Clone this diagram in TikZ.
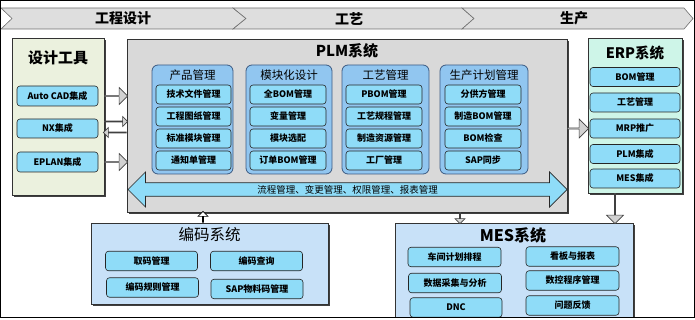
\documentclass[tikz,border=0pt]{standalone}
\usepackage{fontspec}
\setmainfont{Noto Sans CJK SC}
\usetikzlibrary{shapes.arrows,shadows,calc}
\definecolor{hdrfill}{RGB}{222,222,222}
\definecolor{hdrline}{RGB}{110,110,110}
\definecolor{olivefill}{RGB}{235,241,222}
\definecolor{itemfill}{RGB}{143,220,248}
\definecolor{grpfill}{RGB}{145,198,240}
\definecolor{grpline}{RGB}{60,90,130}
\definecolor{plmfill}{RGB}{217,217,217}
\definecolor{erpfill}{RGB}{206,245,232}
\definecolor{sysfill}{RGB}{200,225,248}
\definecolor{arrfill}{RGB}{210,210,210}
\tikzset{
  shad/.style={drop shadow={shadow xshift=1.6pt,shadow yshift=-1.6pt,opacity=1,fill=black!75}},
  bigbox/.style={draw=black!80,line width=0.6pt,inner sep=0pt,shad},
  grpbox/.style={draw=grpline,line width=0.8pt,fill=grpfill,rounded corners=6pt,inner sep=0pt},
  item/.style={draw=black!85,line width=0.6pt,fill=itemfill,rounded corners=3pt,inner sep=0pt,
     font=\bfseries\fontsize{9}{10}\selectfont},
  gitem/.style={item,minimum width=76,minimum height=19},
  eitem/.style={item,minimum width=90,minimum height=19},
  citem/.style={item,minimum width=92,minimum height=19.5},
  ttl/.style={font=\bfseries\fontsize{15}{17}\selectfont},
  gttl/.style={font=\fontsize{11.5}{13}\selectfont},
  hdr/.style={font=\bfseries\fontsize{14}{16}\selectfont},
  hchev/.style={draw=hdrline,fill=hdrfill,line width=0.6pt},
  blockarr/.style={single arrow,draw=black!75,line width=0.6pt,fill=arrfill,inner sep=0pt},
}
\begin{document}
\begin{tikzpicture}[x=1pt,y=-1pt]
\useasboundingbox (0,0) rectangle (695,320);
% header chevrons
\draw[hchev] (1,8) -- (233,8) -- (246,18.5) -- (233,29) -- (1,29) -- (12,18.5) -- cycle;
\draw[hchev] (233,8) -- (462,8) -- (474,18.5) -- (462,29) -- (233,29) -- (246,18.5) -- cycle;
\draw[hchev] (462,8) -- (684,8) -- (693,18.5) -- (684,29) -- (462,29) -- (474,18.5) -- cycle;
\node[hdr] (h1) at (123,18.5) {工程设计};
\node[hdr] (h2) at (349,18.5) {工艺};
\node[hdr] (h3) at (574,18.5) {生产};

% design tools
\node[bigbox,fill=olivefill,minimum width=92,minimum height=157] (dt) at (58,116.5) {};
\node[font=\bfseries\fontsize{15}{17}\selectfont] (dtt) at (58,58) {设计工具};
\node[item,minimum width=81,minimum height=20] (cad) at (57.5,96) {Auto CAD集成};
\node[item,minimum width=81,minimum height=19] (nx) at (57.5,128.5) {NX集成};
\node[item,minimum width=81,minimum height=20] (eplan) at (57.5,162) {EPLAN集成};

% PLM
\node[bigbox,fill=plmfill,minimum width=440,minimum height=173] (plm) at (347,125.5) {};
\node[ttl] (plmt) at (347,51) {PLM系统};

\node[grpbox,minimum width=81,minimum height=109] (g1) at (192.5,119.5) {};
\node[grpbox,minimum width=86,minimum height=109] (g2) at (289,119.5) {};
\node[grpbox,minimum width=87,minimum height=109] (g3) at (385.5,119.5) {};
\node[grpbox,minimum width=88,minimum height=109] (g4) at (484,119.5) {};
\node[gttl] (g1t) at (192.5,75.5) {产品管理};
\node[gttl] (g2t) at (289,75.5) {模块化设计};
\node[gttl] (g3t) at (385.5,75.5) {工艺管理};
\node[gttl] (g4t) at (484,75.5) {生产计划管理};

\node[gitem,minimum width=75] (a1) at (193.5,94.5) {技术文件管理};
\node[gitem,minimum width=75] (a2) at (193.5,116.5) {工程图纸管理};
\node[gitem,minimum width=75] (a3) at (193.5,138.5) {标准模块管理};
\node[gitem,minimum width=75] (a4) at (193.5,160.5) {通知单管理};

\node[gitem] (b1) at (288,94.5) {全BOM管理};
\node[gitem] (b2) at (288,116.5) {变量管理};
\node[gitem] (b3) at (288,138.5) {模块选配};
\node[gitem] (b4) at (288,160.5) {订单BOM管理};

\node[gitem] (c1) at (384,94.5) {PBOM管理};
\node[gitem] (c2) at (384,116.5) {工艺规程管理};
\node[gitem] (c3) at (384,138.5) {制造资源管理};
\node[gitem] (c4) at (384,160.5) {工厂管理};

\node[gitem] (d1) at (483,94.5) {分供方管理};
\node[gitem] (d2) at (483,116.5) {制造BOM管理};
\node[gitem] (d3) at (483,138.5) {BOM检查};
\node[gitem] (d4) at (483,160.5) {SAP同步};

\node[double arrow,draw=black!85,line width=0.7pt,fill=itemfill,inner sep=0pt,
  minimum height=439,minimum width=35,double arrow head extend=7.5pt,
  font=\fontsize{9.5}{11}\selectfont] (flow) at (347.5,189.5) {流程管理、变更管理、权限管理、报表管理};

% ERP
\node[bigbox,fill=erpfill,minimum width=94,minimum height=155] (erp) at (635,115.5) {};
\node[font=\bfseries\fontsize{14.5}{16}\selectfont] (erpt) at (635,53) {ERP系统};
\node[eitem] (e1) at (635,77) {BOM管理};
\node[eitem] (e2) at (635,102.5) {工艺管理};
\node[eitem] (e3) at (635,128.5) {MRP推广};
\node[eitem] (e4) at (635,154) {PLM集成};
\node[eitem] (e5) at (635,178.5) {MES集成};

% coding system
\node[bigbox,fill=sysfill,minimum width=237,minimum height=81] (code) at (209.5,263.5) {};
\node[font=\fontsize{15.5}{17}\selectfont] (codet) at (209.5,235) {编码系统};
\node[citem] (k1) at (151.5,261) {取码管理};
\node[citem] (k2) at (256.5,261) {编码查询};
\node[citem] (k3) at (152.5,287.5) {编码规则管理};
\node[citem] (k4) at (257,289) {SAP物料码管理};

% MES system
\begin{scope}
\clip (0,0) rectangle (695,317.3);
\node[bigbox,fill=sysfill,minimum width=238,minimum height=110,anchor=north] (mes) at (514,223) {};
\end{scope}
\node[font=\bfseries\fontsize{16}{18}\selectfont] (mest) at (513,235.5) {MES系统};
\node[citem,minimum width=93] (m1) at (454.5,257) {车间计划排程};
\node[citem,minimum width=93] (m2) at (572.5,256.5) {看板与报表};
\node[citem,minimum width=93] (m3) at (455,283) {数据采集与分析};
\node[citem,minimum width=93] (m4) at (572.5,280.5) {数控程序管理};
\node[citem,minimum width=92] (m5) at (456,307.5) {DNC};
\node[citem,minimum width=93] (m6) at (572.5,305.5) {问题反馈};

% block arrows
\node[blockarr,minimum height=23,minimum width=17,single arrow head extend=4pt,anchor=tail]
  (ar1) at (cad.east -| dt.east) {};
\node[blockarr,minimum height=23,minimum width=10,single arrow head extend=3pt,anchor=tail]
  (ar2) at ([yshift=7pt]nx.east -| dt.east) {};
\node[blockarr,minimum height=23,minimum width=10,single arrow head extend=3pt,anchor=tail,rotate=180]
  (ar3) at ([yshift=-4pt]nx.east -| plm.west) {};
\node[blockarr,minimum height=23,minimum width=17,single arrow head extend=4pt,anchor=tail]
  (ar4) at (eplan.east -| dt.east) {};
\node[blockarr,minimum height=21,minimum width=19,single arrow head extend=4.5pt,anchor=tail]
  (ar5) at (e3.west -| plm.east) {};
\coordinate (erpdown) at ($(erp.south)+(-20,0)$);
\node[blockarr,minimum height=30,minimum width=17,single arrow head extend=4.5pt,anchor=tail,rotate=-90]
  (ar6) at (erpdown) {};
\coordinate (plmdown) at (plm.south -| 460,0);
\node[blockarr,minimum height=11,minimum width=10,single arrow head extend=2.5pt,anchor=tail,rotate=-90]
  (ar7) at (plmdown) {};
\coordinate (codeup) at (code.north -| 203,0);
\node[blockarr,fill=white,draw=black,minimum height=11,minimum width=10,single arrow head extend=2.5pt,anchor=tail,rotate=90]
  (ar8) at (codeup) {};

% frame
\draw[line width=0.8pt] (0.5,0.5) rectangle (694.5,317.3);
\end{tikzpicture}
\end{document}
